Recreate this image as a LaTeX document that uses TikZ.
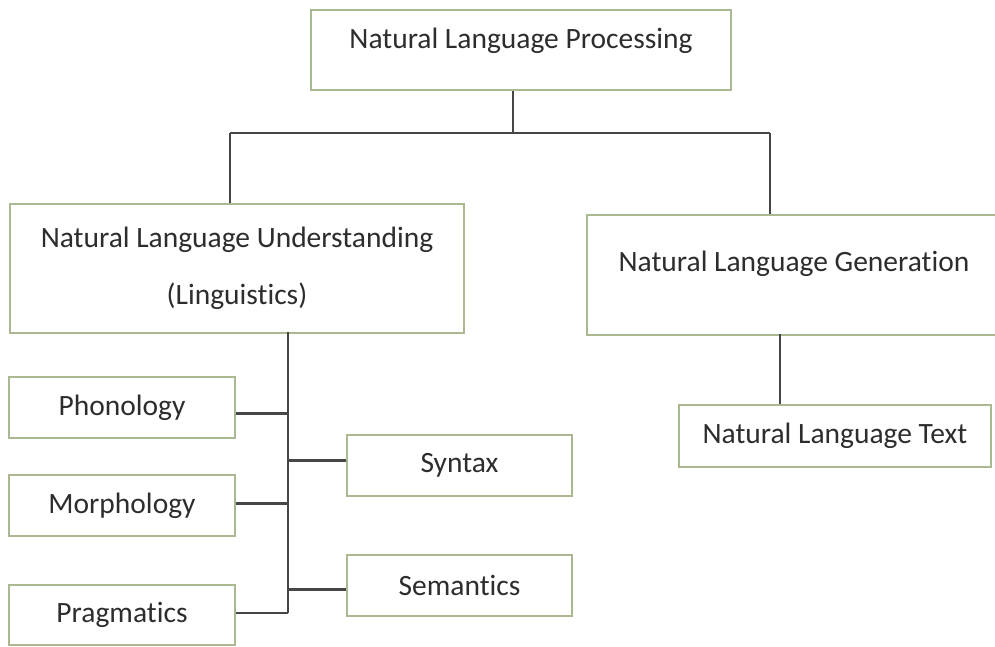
\documentclass[tikz,border=0pt]{standalone}
\usepackage{fontspec}
\setmainfont{Carlito}[Ligatures=NoCommon]
\usetikzlibrary{calc}
\definecolor{boxgreen}{RGB}{170,184,146}
\definecolor{linkgray}{RGB}{70,70,70}
\definecolor{textgray}{RGB}{45,45,45}
\tikzset{
  blk/.style={draw=boxgreen, line width=2pt, rectangle, inner sep=0pt,
              anchor=north west, fill=white},
  link/.style={draw=linkgray, line width=2.2pt},
  every label/.style={font=\fontsize{29.5}{34}\selectfont, text=textgray}
}
\begin{document}
\begin{tikzpicture}[x=1pt, y=-1pt, font=\fontsize{29.5}{34}\selectfont, text=textgray]
  \useasboundingbox (0,0) rectangle (995,646);

  % top level
  \node[blk, minimum width=420pt, minimum height=80pt,
        label={[yshift=9pt]center:Natural Language Processing}] (nlp) at (310,9) {};

  % second level
  \node[blk, minimum width=454pt, minimum height=129pt, align=center,
        font=\fontsize{29.5}{57}\selectfont] (nlu) at (9,203)
        {Natural Language Understanding\\(Linguistics)};
  \node[blk, minimum width=414pt, minimum height=120pt,
        label={[yshift=11pt]center:Natural Language Generation}] (nlg) at (586,214) {};

  % generation branch
  \node[blk, minimum width=312pt, minimum height=62pt] (nlt) at (678,404)
        {Natural Language Text};

  % linguistics branch, left column
  \node[blk, minimum width=226pt, minimum height=61pt] (phon) at (8,376) {Phonology};
  \node[blk, minimum width=226pt, minimum height=61pt] (morph) at (8,474) {Morphology};
  \node[blk, minimum width=226pt, minimum height=60pt] (prag) at (8,584) {Pragmatics};

  % linguistics branch, right column
  \node[blk, minimum width=225pt, minimum height=61pt] (syn) at (346,434) {Syntax};
  \node[blk, minimum width=225pt, minimum height=61pt] (sem) at (346,554) {Semantics};

  % connectors from the top box
  \coordinate (split) at (513,133);
  \coordinate (nlutop) at (230,203);
  \coordinate (nlgtop) at (770,214);
  \draw[link] (nlp.south -| split) -- (split);
  \draw[link] (split -| nlutop) -- (split -| nlgtop);
  \draw[link] (split -| nlutop) -- (nlutop);
  \draw[link] (split -| nlgtop) -- (nlgtop);

  % generation to text
  \coordinate (gen) at (780,334);
  \draw[link] (gen) -- (gen |- nlt.north);

  % linguistics trunk and branches
  \coordinate (trunk) at (288,332);
  \coordinate (trunkend) at (288,613);
  \draw[link] (trunk) -- (trunkend);
  \draw[link] ([yshift=-6pt]phon.east) -- ([yshift=-6pt]phon.east -| trunk);
  \draw[link] ([yshift=2pt]morph.east) -- ([yshift=2pt]morph.east -| trunk);
  \draw[link] (prag.east |- trunkend) -- (trunkend);
  \draw[link] ([yshift=5pt]syn.west) -- ([yshift=5pt]syn.west -| trunk);
  \draw[link] ([yshift=-4pt]sem.west) -- ([yshift=-4pt]sem.west -| trunk);
\end{tikzpicture}
\end{document}
